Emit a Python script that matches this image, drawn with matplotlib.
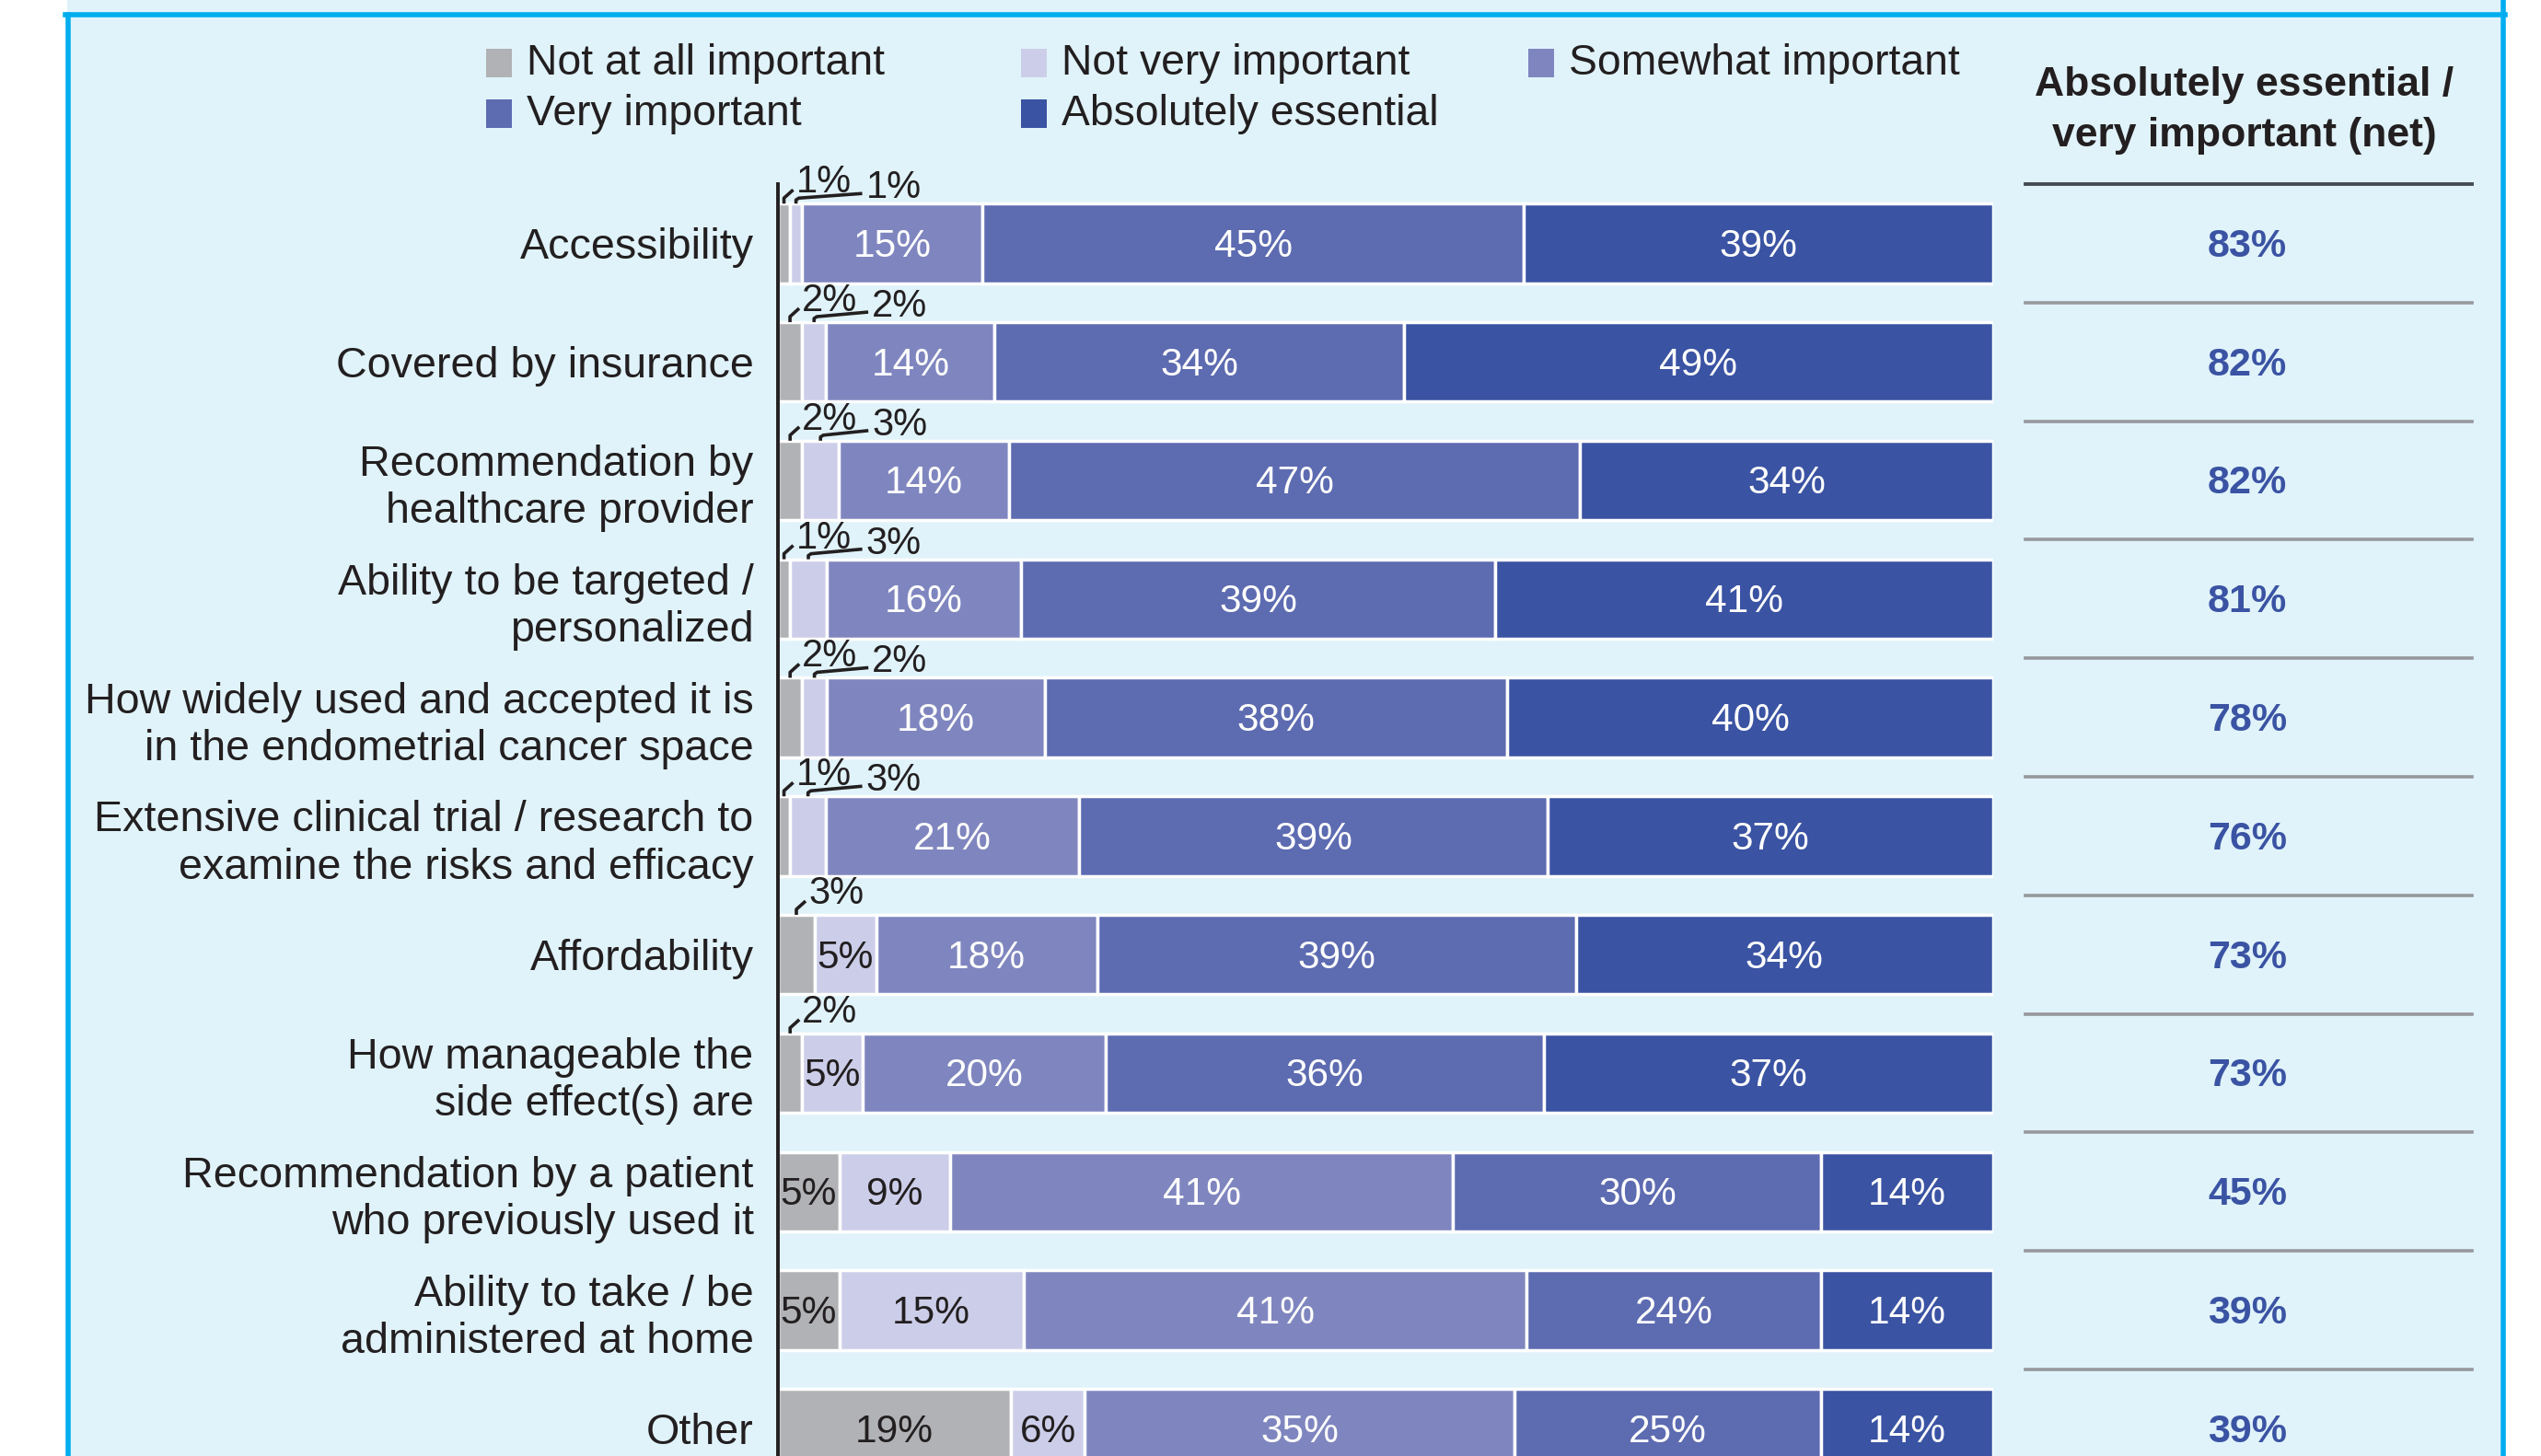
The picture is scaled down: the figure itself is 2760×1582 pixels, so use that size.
import numpy as np
import matplotlib
matplotlib.use("Agg")
import matplotlib.pyplot as plt
from matplotlib.patches import Rectangle
from matplotlib.lines import Line2D
import matplotlib.transforms as mtransforms

plt.rcParams['font.family'] = ['Liberation Sans', 'DejaVu Sans']

# data
categories = ["Accessibility",
              "Covered by insurance",
              "Recommendation by\nhealthcare provider",
              "Ability to be targeted /\npersonalized",
              "How widely used and accepted it is\nin the endometrial cancer space",
              "Extensive clinical trial / research to\nexamine the risks and efficacy",
              "Affordability",
              "How manageable the\nside effect(s) are",
              "Recommendation by a patient\nwho previously used it",
              "Ability to take / be\nadministered at home",
              "Other"]
levels = ["Not at all important", "Not very important", "Somewhat important",
          "Very important", "Absolutely essential"]
not_at_all = [1, 2, 2, 1, 2, 1, 3, 2, 5, 5, 19]
not_very = [1, 2, 3, 3, 2, 3, 5, 5, 9, 15, 6]
somewhat = [15, 14, 14, 16, 18, 21, 18, 20, 41, 41, 35]
very = [45, 34, 47, 39, 38, 39, 39, 36, 30, 24, 25]
essential = [39, 49, 34, 41, 40, 37, 34, 37, 14, 14, 14]
net = [83, 82, 82, 81, 78, 76, 73, 73, 45, 39, 39]

colors = ["#b1b2b5", "#cccee9", "#7f86bf", "#5d6bb1", "#3a53a3"]
text_cols = ["#231f20", "#231f20", "white", "white", "white"]
dark = "#231f20"
bg = "#e0f3fb"
cyan = "#00aeef"

W, H = 2760, 1582
fig = plt.figure(figsize=(W / 100, H / 100), dpi=100)
fig.patch.set_facecolor("white")

# panel background + cyan frame
fig.add_artist(Rectangle((73 / W, 0), (2719 - 73) / W, 1, transform=fig.transFigure,
                         facecolor=bg, edgecolor="none", zorder=0))
fig.add_artist(Line2D([73.5 / W, 73.5 / W], [0, 1 - 16 / H], color=cyan, lw=4, transform=fig.transFigure))
fig.add_artist(Line2D([2719 / W, 2719 / W], [0, 1], color=cyan, lw=4, transform=fig.transFigure))
fig.add_artist(Line2D([71 / W, 2721 / W], [1 - 16 / H, 1 - 16 / H], color=cyan, lw=4, transform=fig.transFigure))

# main axes
row_px = 128.8
ax_top, ax_left, ax_w = 200, 845, 1320
ax_h = row_px * 11
ax = fig.add_axes([ax_left / W, 1 - (ax_top + ax_h) / H, ax_w / W, ax_h / H])
ax.set_facecolor("none")
ax.set_xlim(0, 100)
ax.set_ylim(10.5, -0.5)
for s in ["top", "right", "bottom"]:
    ax.spines[s].set_visible(False)
ax.spines["left"].set_color(dark)
ax.spines["left"].set_linewidth(2.8)
ax.spines["left"].set_zorder(6)
ax.set_xticks([])
y = np.arange(len(categories))
ax.set_yticks(y, categories)
ax.tick_params(axis="y", length=0, pad=19, labelsize=33.6, labelcolor=dark)
for t in ax.get_yticklabels():
    t.set_linespacing(1.22)

px_x = ax_w / 100.0
px_y = row_px
dy_txt = 3.5 / px_y  # nudge numbers down a touch

series = np.array([not_at_all, not_very, somewhat, very, essential], dtype=float)
totals = series.sum(axis=0)
widths = series / totals * 100
bar_h = 0.67

lefts = np.zeros(len(categories))
for k in range(5):
    ax.barh(y, widths[k], left=lefts, height=bar_h, color=colors[k],
            edgecolor="white", linewidth=2.5, zorder=3)
    for i in range(len(categories)):
        v = int(series[k, i])
        xc = lefts[i] + widths[k, i] / 2
        if k < 2 and v <= 3:
            continue
        ax.text(xc, i + dy_txt, f"{v}%", ha="center", va="center", fontsize=30.5,
                color=text_cols[k], zorder=5)
    lefts = lefts + widths[k]

# small values above the bars with leader lines
for i in range(len(categories)):
    top = i - bar_h / 2
    gx = None
    if not_at_all[i] <= 3:
        xc = widths[0, i] / 2
        ax.plot([xc, xc, xc + 10 / px_x], [top, top - 6 / px_y, top - 15 / px_y],
                color=dark, lw=2.6, clip_on=False, zorder=6, solid_capstyle="butt")
        gx = xc + 13 / px_x
        ax.text(gx, top - 12 / px_y, f"{not_at_all[i]}%", ha="left", va="baseline",
                fontsize=30, color=dark, clip_on=False)
    if not_very[i] <= 3:
        xc = widths[0, i] + widths[1, i] / 2
        lx = gx + 76 / px_x
        ax.plot([xc, xc, xc + 3 / px_x, lx - 4 / px_x],
                [top, top - 4 / px_y, top - 6 / px_y, top - 11 / px_y],
                color=dark, lw=2.6, clip_on=False, zorder=6, solid_capstyle="butt")
        ax.text(lx, top - 6 / px_y, f"{not_very[i]}%", ha="left", va="baseline",
                fontsize=30, color=dark, clip_on=False)

# net column on the right
blend = mtransforms.blended_transform_factory(fig.transFigure, ax.transData)
x0, x1, xm = 2200 / W, 2685 / W, 2441 / W
ax.plot([x0, x1], [-0.5, -0.5], color="#464b53", lw=2.8, transform=blend, clip_on=False)
for i in range(len(categories)):
    ax.text(xm, i + dy_txt, f"{net[i]}%", ha="center", va="center", fontsize=31,
            fontweight="bold", color="#3a53a3", transform=blend, clip_on=False)
    if i < len(categories) - 1:
        ax.plot([x0, x1], [i + 0.5, i + 0.5], color="#96989c", lw=2.6,
                transform=blend, clip_on=False)

fig.text(2438 / W, 1 - 120 / H, "Absolutely essential /\nvery important (net)",
         ha="center", va="center", fontsize=32, fontweight="bold", color=dark,
         linespacing=1.42)

# legend, laid out in two rows like the original
sq_x = [528, 1109, 1660, 528, 1109]
sq_y = [53, 53, 53, 108, 108]
for k in range(5):
    fig.add_artist(Rectangle((sq_x[k] / W, 1 - (sq_y[k] + 31) / H), 28 / W, 31 / H,
                             transform=fig.transFigure, facecolor=colors[k], edgecolor="none"))
    fig.text((sq_x[k] + 44) / W, 1 - (sq_y[k] + 16) / H, levels[k], ha="left", va="center",
             fontsize=33.3, color=dark)

fig.savefig("out.png", dpi=100, facecolor=fig.get_facecolor())
